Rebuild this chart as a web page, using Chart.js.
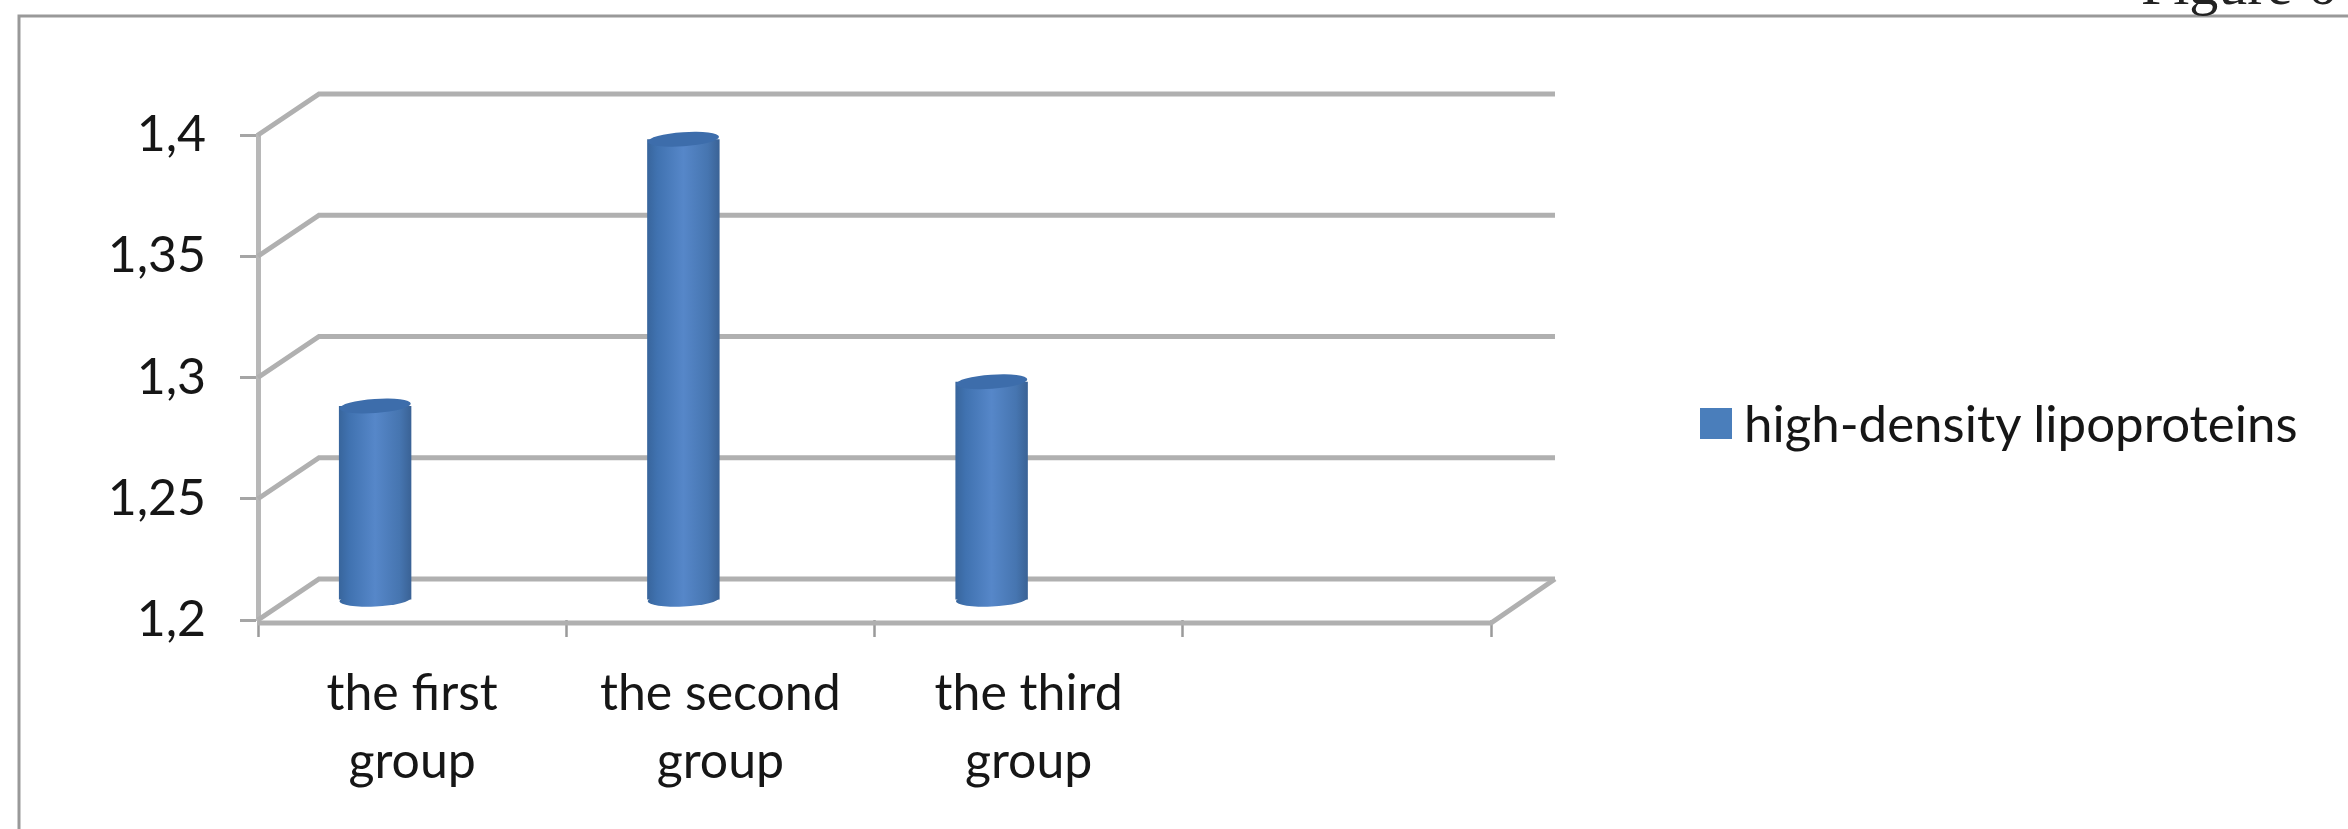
<!DOCTYPE html>
<html>
<head>
<meta charset="utf-8">
<script src="https://cdn.jsdelivr.net/npm/chart.js@4"></script>
<style>
    html, body { margin: 0; padding: 0; background: #fff; overflow: hidden; }
    #wrap { position: relative; width: 2348px; height: 829px; overflow: hidden; }
    #figure {
        position: absolute; left: 2141px; top: -50px; white-space: nowrap;
        font: 58px/70px "Liberation Serif", serif; color: #222;
    }
    #legend {
        position: absolute; left: 1700px; top: 394px; display: flex; align-items: center;
        font: 51px/58px Lato, sans-serif; color: #161616; white-space: nowrap;
    }
    #legend i { display: block; width: 32px; height: 31px; margin-right: 12px; }
</style>
</head>
<body>
<div id="wrap">
    <canvas id="chart" width="2348" height="829"></canvas>
    <div id="figure">Figure 6</div>
    <div id="legend"></div>
</div>
<script>
// Data
const categories = [['the first', 'group'], ['the second', 'group'], ['the third', 'group'], ''];
const hdlValues = [1.28, 1.39, 1.29, null];
const seriesName = 'high-density lipoproteins';
const yMin = 1.2;
const yMax = 1.4;
const yStep = 0.05;

// Look of the pseudo 3D box
const depth = { x: 61, y: -41 };        // back wall relative to front plane
const barShift = { x: -37, y: -20 };    // columns stand inside the floor
const wallColor = '#b0b0b0';
const legendColor = '#4a7ebb';
const barPercent = 0.235;

// Horizontal shading so the columns read as cylinders
function barFill(ctx) {
    if (ctx.type !== 'data') return legendColor;
    const chart = ctx.chart;
    const x = chart.scales.x.getPixelForValue(ctx.dataIndex);
    const half = chart.scales.x.width / categories.length * barPercent / 2;
    if (!Number.isFinite(x) || !Number.isFinite(half)) return legendColor;
    const g = chart.ctx.createLinearGradient(x - half, 0, x + half, 0);
    g.addColorStop(0, '#38659c');
    g.addColorStop(0.14, '#4072b0');
    g.addColorStop(0.5, '#5687c9');
    g.addColorStop(0.84, '#4675b0');
    g.addColorStop(1, '#3a6295');
    return g;
}

// Back wall, side wall and floor, drawn from the y scale ticks
const wallPlugin = {
    id: 'wall',
    beforeDatasetsDraw(chart) {
        const { ctx, chartArea, scales } = chart;
        ctx.save();
        ctx.strokeStyle = wallColor;
        ctx.lineWidth = 5;
        scales.y.ticks.forEach((tick) => {
            const y = scales.y.getPixelForValue(tick.value);
            ctx.beginPath();
            ctx.moveTo(chartArea.left, y);
            ctx.lineTo(chartArea.left + depth.x, y + depth.y);
            ctx.lineTo(chartArea.right + depth.x + 3, y + depth.y);
            ctx.stroke();
        });
        // floor front edge and right side
        ctx.beginPath();
        ctx.moveTo(chartArea.left, chartArea.bottom + 3);
        ctx.lineTo(chartArea.right, chartArea.bottom + 3);
        ctx.lineTo(chartArea.right + depth.x + 3, chartArea.bottom + depth.y);
        ctx.stroke();
        ctx.restore();

        // columns are drawn pushed back into the box
        ctx.save();
        ctx.translate(barShift.x, barShift.y);
    },
    afterDatasetsDraw(chart) {
        const { ctx } = chart;
        chart.getDatasetMeta(0).data.forEach((bar, i) => {
            if (hdlValues[i] === null) return;
            const half = bar.width / 2 - 0.5;
            // foot of the column
            ctx.beginPath();
            ctx.ellipse(bar.x, bar.base, half, 7, -0.05, 0, Math.PI * 2);
            ctx.fillStyle = barFill({ type: 'data', chart, dataIndex: i });
            ctx.fill();
            // lid
            ctx.beginPath();
            ctx.ellipse(bar.x, bar.y, half, 7, -0.07, 0, Math.PI * 2);
            ctx.fillStyle = '#3d6dab';
            ctx.fill();
        });
        ctx.restore();
    },
    beforeDraw(chart) {
        // outer frame, only top and left are in view
        const { ctx, width, height } = chart;
        ctx.save();
        ctx.strokeStyle = '#999999';
        ctx.lineWidth = 3;
        ctx.beginPath();
        ctx.moveTo(19, height);
        ctx.lineTo(19, 16);
        ctx.lineTo(width, 16);
        ctx.stroke();
        ctx.restore();
    }
};

const chart = new Chart(document.getElementById('chart'), {
    type: 'bar',
    plugins: [wallPlugin],
    data: {
        labels: categories,
        datasets: [{
            label: seriesName,
            data: hdlValues,
            base: yMin,
            backgroundColor: barFill,
            borderWidth: 0,
            categoryPercentage: 1,
            barPercentage: barPercent,
            clip: false
        }]
    },
    options: {
        responsive: false,
        animation: false,
        layout: { padding: { top: 135, right: 857, bottom: 0, left: 0 } },
        plugins: {
            legend: { display: false },
            tooltip: { enabled: false }
        },
        scales: {
            x: {
                afterFit: (scale) => { scale.height = 209; },
                grid: { drawOnChartArea: false, tickLength: 17, tickColor: '#9a9a9a', tickWidth: 2.5 },
                border: { display: false },
                ticks: {
                    color: '#161616',
                    padding: 23,
                    maxRotation: 0,
                    autoSkip: false,
                    font: { family: 'Lato', size: 50, lineHeight: 1.36 }
                }
            },
            y: {
                min: yMin,
                max: yMax,
                afterFit: (scale) => { scale.width = 258; },
                grid: { drawOnChartArea: false, tickLength: 18, tickColor: '#a5a5a5', tickWidth: 3 },
                border: { color: '#b8b8b8', width: 5 },
                ticks: {
                    stepSize: yStep,
                    color: '#161616',
                    padding: 34,
                    font: { family: 'Lato', size: 50 },
                    callback: (value) => String(Number(value.toFixed(2))).replace('.', ',')
                }
            }
        }
    }
});

// Legend built from the chart's own datasets
function buildLegend() {
    const box = document.getElementById('legend');
    chart.data.datasets.forEach((ds) => {
        const swatch = document.createElement('i');
        swatch.style.background = legendColor;
        box.appendChild(swatch);
        box.appendChild(document.createTextNode(ds.label));
    });
}
buildLegend();
</script>
</body>
</html>
